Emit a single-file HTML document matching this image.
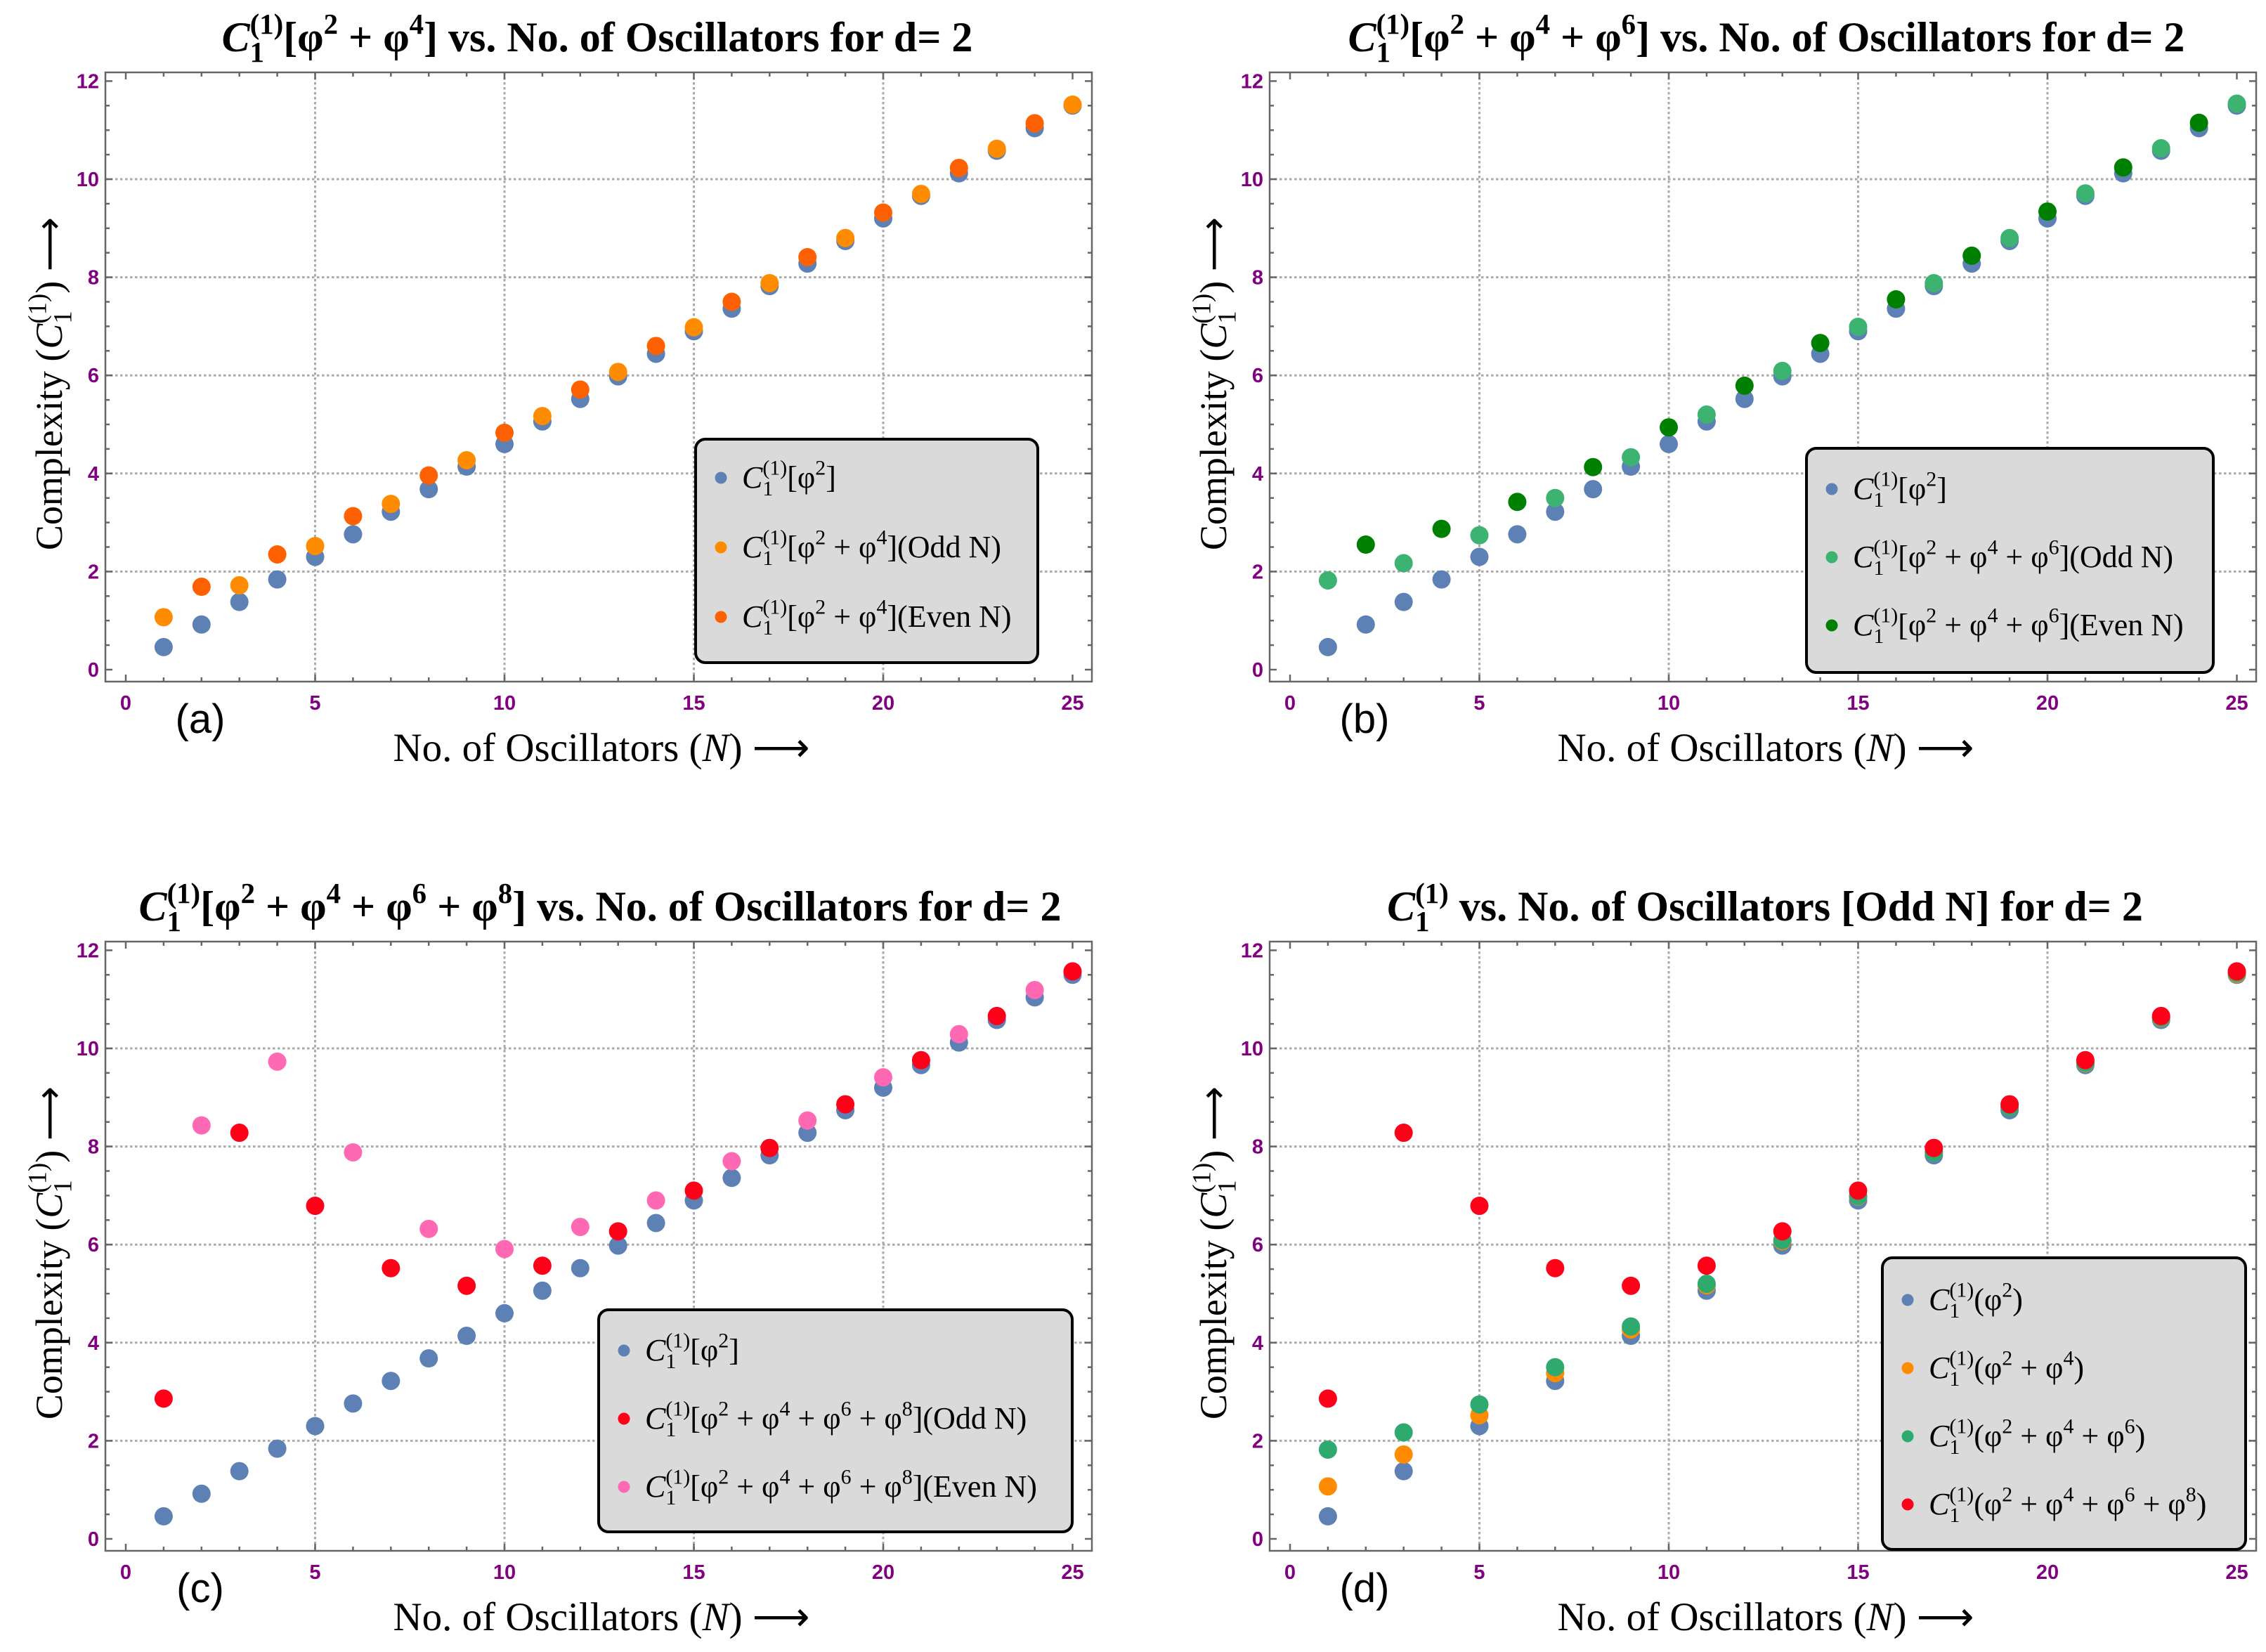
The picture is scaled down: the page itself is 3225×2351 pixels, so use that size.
<!DOCTYPE html>
<html><head><meta charset="utf-8">
<style>
html,body{margin:0;padding:0;background:#fff;}
svg{display:block;}
</style></head>
<body>
<svg id="fig" xmlns="http://www.w3.org/2000/svg" width="3225" height="2351" viewBox="0 0 3225 2351">
<rect width="3225" height="2351" fill="#fff"/>
</svg>
<script>
const nAll=[1,2,3,4,5,6,7,8,9,10,11,12,13,14,15,16,17,18,19,20,21,22,23,24,25];
const nOdd=[1,3,5,7,9,11,13,15,17,19,21,23,25];
const nEven=[2,4,6,8,10,12,14,16,18,20,22,24];
const phi2=[0.46,0.92,1.38,1.84,2.30,2.76,3.22,3.68,4.14,4.60,5.06,5.52,5.98,6.44,6.90,7.36,7.82,8.28,8.74,9.20,9.66,10.12,10.58,11.04,11.50];
const phi2Odd=[0.46,1.38,2.30,3.22,4.14,5.06,5.98,6.90,7.82,8.74,9.66,10.58,11.50];
const aOdd=[1.07,1.72,2.52,3.38,4.27,5.17,6.07,6.98,7.88,8.80,9.70,10.62,11.52];
const aEven=[1.69,2.35,3.13,3.96,4.83,5.71,6.60,7.50,8.41,9.32,10.23,11.14];
const bOdd=[1.82,2.17,2.74,3.50,4.33,5.20,6.09,6.99,7.88,8.80,9.71,10.63,11.54];
const bEven=[2.55,2.87,3.42,4.13,4.94,5.79,6.66,7.55,8.44,9.34,10.24,11.15];
const cOdd=[2.86,8.28,6.79,5.52,5.16,5.57,6.27,7.10,7.97,8.86,9.76,10.66,11.57];
const cEven=[8.43,9.73,7.88,6.32,5.91,6.36,6.90,7.70,8.53,9.41,10.29,11.19];
const xTicks=[0,5,10,15,20,25];
const yTicks=[0,2,4,6,8,10,12];

const NS="http://www.w3.org/2000/svg";
const svg=document.getElementById('fig');
function mk(tag,attrs,parent){const e=document.createElementNS(NS,tag);for(const k in attrs)e.setAttribute(k,attrs[k]);(parent||svg).appendChild(e);return e;}

function mathText(el,str,size){
  const parts=str.split(/(\^\{[^}]*\}|_\{[^}]*\}|C(?=_))/).filter(s=>s.length);
  let cur=0;let prevSub=null;
  parts.forEach(p=>{
    let t=mk('tspan',{},el);
    if(p.startsWith('^{')){
      const target=-0.42*size;t.setAttribute('dy',target-cur);cur=target;
      t.setAttribute('font-size',0.68*size);
      if(prevSub!==null){t.setAttribute('dx',-prevSub*0.68*size*0.5);}
      t.textContent=p.slice(2,-1);prevSub=null;
    }else if(p.startsWith('_{')){
      const target=0.25*size;t.setAttribute('dy',target-cur);cur=target;
      t.setAttribute('font-size',0.68*size);
      t.textContent=p.slice(2,-1);prevSub=p.length-3;
    }else{
      t.setAttribute('dy',-cur);cur=0;t.textContent=p;prevSub=null;
      if(p==='C')t.setAttribute('font-style','italic');
    }
  });
}

const X0=179,DX=53.9,Y0=953,DY=69.8;
function panel(cfg){
  const ox=cfg.ox,oy=cfg.oy;
  const g=mk('g',{});
  
  
  const sx=v=>ox+X0+v*DX, sy=v=>oy+Y0-v*DY;
  const L=ox+150,R=ox+1554,T=oy+103,B=oy+970;
  const gg=mk('g',{stroke:'#aaaaaa','stroke-width':3,'stroke-dasharray':'3.5 3.5',fill:'none'},g);
  
  
  [5,10,15,20].forEach(v=>mk('line',{x1:sx(v),x2:sx(v),y1:T,y2:B},gg));
  [2,4,6,8,10].forEach(v=>mk('line',{x1:L,x2:R,y1:sy(v),y2:sy(v)},gg));
  const fr=mk('rect',{x:L,y:T,width:R-L,height:B-T,fill:'none',stroke:'#666','stroke-width':2.5},g);
  
  
  const tk=mk('g',{stroke:'#666','stroke-width':2.5},g);
  for(let v=0;v<=25;v++){const len=v%5===0?10:6;
    mk('line',{x1:sx(v),x2:sx(v),y1:B,y2:B-len},tk);mk('line',{x1:sx(v),x2:sx(v),y1:T,y2:T+len},tk);}
  for(let v=0;v<=12.01;v+=0.5){const len=Math.abs(v-Math.round(v/2)*2)<0.01?10:6;
    mk('line',{x1:L,x2:L+len,y1:sy(v),y2:sy(v)},tk);mk('line',{x1:R,x2:R-len,y1:sy(v),y2:sy(v)},tk);}
  xTicks.forEach(v=>{const t=mk('text',{x:sx(v),y:oy+1010,'text-anchor':'middle','font-family':'Liberation Sans, sans-serif','font-weight':'bold','font-size':29,fill:'#800080'},g);t.textContent=v;
    });
  yTicks.forEach(v=>{const t=mk('text',{x:ox+141,y:sy(v)+10,'text-anchor':'end','font-family':'Liberation Sans, sans-serif','font-weight':'bold','font-size':29,fill:'#800080'},g);t.textContent=v;
    });
  cfg.series.forEach(s=>{
    const sg=mk('g',{fill:s.color},g);
    
    
    s.x.forEach((n,i)=>{const c=mk('circle',{cx:sx(n),cy:sy(s.y[i]),r:13},sg);
      });
  });
  const tt=mk('text',{x:ox+cfg.tx,y:oy+73,'text-anchor':'middle','font-family':'Liberation Serif, serif','font-weight':'bold','font-size':60,fill:'#000'},g);
  
  mathText(tt,cfg.title,60);
  const xl=mk('text',{x:ox+856,y:oy+1083,'text-anchor':'middle','font-family':'Liberation Serif, serif','font-size':57,fill:'#000'},g);
  
  xl.innerHTML='No. of Oscillators (<tspan font-style="italic">N</tspan>) ⟶';
  const yl=mk('text',{x:0,y:0,'text-anchor':'middle','font-family':'Liberation Serif, serif','font-size':54,fill:'#000',transform:`translate(${ox+88},${oy+546}) rotate(-90)`},g);
  
  mathText(yl,'Complexity (C_{1}^{(1)}) ⟶',54);
  const pl=mk('text',{x:ox+285,y:oy+1043,'text-anchor':'middle','font-family':'Liberation Sans, sans-serif','font-size':58,fill:'#000'},g);
  
  pl.textContent=cfg.letter;
  const lb=cfg.legend;
  const lg=mk('g',{},g);
  
  mk('rect',{x:ox+lb.x,y:oy+lb.y,width:lb.w,height:lb.h,rx:14,fill:'#dadada',stroke:'#000','stroke-width':4},lg);
  lb.rows.forEach((r,i)=>{
    const cy=oy+lb.y+lb.first+i*lb.step;
    const e=mk('g',{},lg);
    
    mk('circle',{cx:ox+lb.x+36,cy:cy,r:8.5,fill:r.color},e);
    const t=mk('text',{x:ox+lb.x+66,y:cy+14,'font-family':'Liberation Serif, serif','font-size':44,fill:'#000'},e);
    mathText(t,r.label,44);
  });
}
const BLUE='#5e81b5';
panel({name:'panel-a',ox:0,oy:0,letter:'(a)',tx:850,
  title:'C_{1}^{(1)}[φ^{2} + φ^{4}] vs. No. of Oscillators for d= 2',
  series:[{name:'series-phi2',x:nAll,y:phi2,color:BLUE},{name:'series-odd',x:nOdd,y:aOdd,color:'#ff8c00'},{name:'series-even',x:nEven,y:aEven,color:'#ff6000'}],
  legend:{x:990,y:625,w:487,h:318,first:55,step:99,rows:[
    {color:BLUE,label:'C_{1}^{(1)}[φ^{2}]'},{color:'#ff8c00',label:'C_{1}^{(1)}[φ^{2} + φ^{4}](Odd N)'},{color:'#ff6000',label:'C_{1}^{(1)}[φ^{2} + φ^{4}](Even N)'}]}});
panel({name:'panel-b',ox:1657,oy:0,letter:'(b)',tx:857,
  title:'C_{1}^{(1)}[φ^{2} + φ^{4} + φ^{6}] vs. No. of Oscillators for d= 2',
  series:[{name:'series-phi2',x:nAll,y:phi2,color:BLUE},{name:'series-odd',x:nOdd,y:bOdd,color:'#3cb371'},{name:'series-even',x:nEven,y:bEven,color:'#008000'}],
  legend:{x:914,y:638,w:579,h:319,first:58,step:97,rows:[
    {color:BLUE,label:'C_{1}^{(1)}[φ^{2}]'},{color:'#3cb371',label:'C_{1}^{(1)}[φ^{2} + φ^{4} + φ^{6}](Odd N)'},{color:'#008000',label:'C_{1}^{(1)}[φ^{2} + φ^{4} + φ^{6}](Even N)'}]}});
panel({name:'panel-c',ox:0,oy:1237,letter:'(c)',tx:854,
  title:'C_{1}^{(1)}[φ^{2} + φ^{4} + φ^{6} + φ^{8}] vs. No. of Oscillators for d= 2',
  series:[{name:'series-phi2',x:nAll,y:phi2,color:BLUE},{name:'series-odd',x:nOdd,y:cOdd,color:'#ff0019'},{name:'series-even',x:nEven,y:cEven,color:'#ff69b4'}],
  legend:{x:852,y:627,w:674,h:316,first:58,step:97,rows:[
    {color:BLUE,label:'C_{1}^{(1)}[φ^{2}]'},{color:'#ff0019',label:'C_{1}^{(1)}[φ^{2} + φ^{4} + φ^{6} + φ^{8}](Odd N)'},{color:'#ff69b4',label:'C_{1}^{(1)}[φ^{2} + φ^{4} + φ^{6} + φ^{8}](Even N)'}]}});
panel({name:'panel-d',ox:1657,oy:1237,letter:'(d)',tx:855,
  title:'C_{1}^{(1)} vs. No. of Oscillators [Odd N] for d= 2',
  series:[{name:'series-phi2',x:nOdd,y:phi2Odd,color:BLUE},{name:'series-phi4',x:nOdd,y:aOdd,color:'#ff8c00'},{name:'series-phi6',x:nOdd,y:bOdd,color:'#2eaa6e'},{name:'series-phi8',x:nOdd,y:cOdd,color:'#ff0019'}],
  legend:{x:1022,y:553,w:517,h:415,first:60,step:97,rows:[
    {color:BLUE,label:'C_{1}^{(1)}(φ^{2})'},{color:'#ff8c00',label:'C_{1}^{(1)}(φ^{2} + φ^{4})'},{color:'#2eaa6e',label:'C_{1}^{(1)}(φ^{2} + φ^{4} + φ^{6})'},{color:'#ff0019',label:'C_{1}^{(1)}(φ^{2} + φ^{4} + φ^{6} + φ^{8})'}]}});
</script>
</body></html>
